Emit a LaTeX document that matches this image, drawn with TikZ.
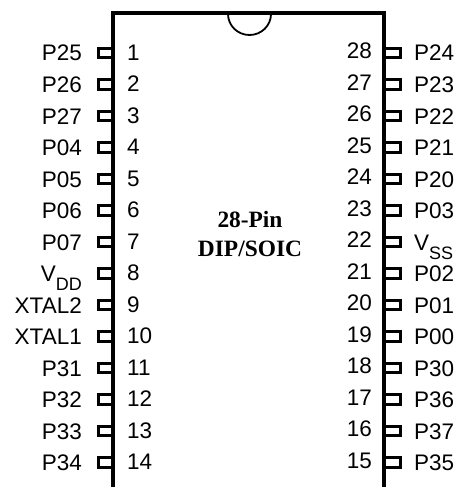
\documentclass[tikz,border=0pt]{standalone}
\usepackage{fontspec}
\setmainfont{Liberation Sans}
\newfontfamily\titlefont{Liberation Serif}
\def\pitch{31.5}
\def\vdd{V\raisebox{-9pt}{\fontsize{18}{18}\selectfont DD}}
\def\vss{V\raisebox{-9pt}{\fontsize{18}{18}\selectfont SS}}
\tikzstyle{body} = [draw, line width=4.4pt, -]
\tikzstyle{notch} = [draw, line width=1.8pt]
\tikzstyle{lead}=[draw,line width=3pt,inner sep=0pt,minimum height=9.6pt]
\tikzstyle{pinlabel}=[inner sep=0pt,font=\fontsize{22.5}{24}\selectfont]
\tikzstyle{title}=[inner sep=0pt,font=\titlefont\bfseries\fontsize{23.4}{24}\selectfont]

\begin{document}
\begin{tikzpicture}[x=1pt,y=-1pt]
    \useasboundingbox (0,0) rectangle (459,487);

    % left row of pins
    \foreach \num/\name in {1/P25, 2/P26, 3/P27, 4/P04, 5/P05, 6/P06, 7/P07, 8/\vdd, 9/XTAL2, 10/XTAL1, 11/P31, 12/P32, 13/P33, 14/P34} {
      \pgfmathsetmacro{\ypos}{53+(\num-1)*\pitch}
      \node[lead,minimum width=14pt,anchor=west] (pin\num) at (97,\ypos) {};
      \node[pinlabel,anchor=base east] (label\num) at (82,\ypos+8) {\name};
      \node[pinlabel,anchor=base west] (num\num) at (127,\ypos+7) {\num};
    }

    % right row of pins
    \foreach \num/\name in {28/P24, 27/P23, 26/P22, 25/P21, 24/P20, 23/P03, 22/\vss, 21/P02, 20/P01, 19/P00, 18/P30, 17/P36, 16/P37, 15/P35} {
      \pgfmathsetmacro{\ypos}{53+(28-\num)*\pitch}
      \node[lead,minimum width=16.5pt,anchor=east] (pin\num) at (402,\ypos) {};
      \node[pinlabel,anchor=base west] (label\num) at (414,\ypos+8) {\name};
      \node[pinlabel,anchor=base east] (num\num) at (372,\ypos+5.7) {\num};
    }

    \coordinate (bl) at (113,487);
    \coordinate (tl) at (113,13);
    \coordinate (tr) at (384,13);
    \coordinate (br) at (384,487);
    \path[body] (bl) -- (tl) -- (tr) -- (br);

    \coordinate (notchl) at (228,14);
    \path[notch] (notchl) arc[start angle=180, end angle=360, x radius=21.5pt, y radius=21pt];

    \node[title,anchor=base] (name) at (250,227) {28-Pin};
    \node[title,anchor=base] (package) at (250,256.7) {DIP/SOIC};
\end{tikzpicture}
\end{document}
